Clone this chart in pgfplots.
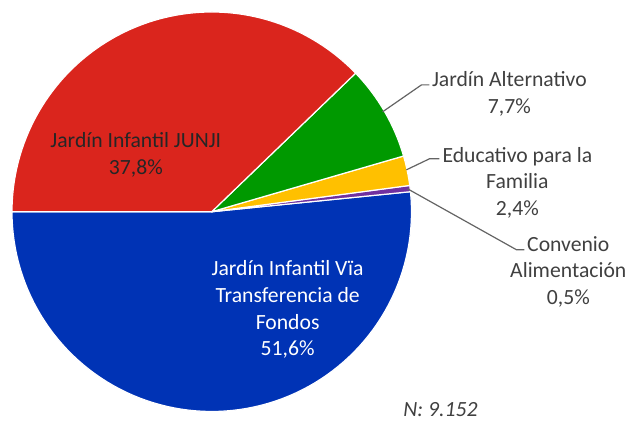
\documentclass[border=0pt]{standalone}
\usepackage{fontspec}
\setmainfont{Carlito}
\usepackage{pgfplots}
\usepackage{pgfplotstable}
\pgfplotsset{compat=1.18}
\definecolor{cRed}{RGB}{218,37,29}
\definecolor{cGreen}{RGB}{0,153,0}
\definecolor{cYellow}{RGB}{255,192,0}
\definecolor{cPurple}{RGB}{112,48,160}
\definecolor{cBlue}{RGB}{0,51,181}
\definecolor{cText}{RGB}{64,64,64}
\definecolor{cLine}{RGB}{100,100,100}
\pgfplotstableread{
name pct
Transferencia 51.6
Convenio 0.5
Educativo 2.4
Alternativo 7.7
JUNJI 37.8
}\piedata
\pgfplotstablegetelem{0}{pct}\of\piedata \let\pA\pgfplotsretval
\pgfplotstablegetelem{1}{pct}\of\piedata \let\pB\pgfplotsretval
\pgfplotstablegetelem{2}{pct}\of\piedata \let\pC\pgfplotsretval
\pgfplotstablegetelem{3}{pct}\of\piedata \let\pD\pgfplotsretval
\pgfplotstablegetelem{4}{pct}\of\piedata \let\pE\pgfplotsretval
\pgfmathsetmacro\aA{180}
\pgfmathsetmacro\aB{\aA+3.6*\pA}
\pgfmathsetmacro\aC{\aB+3.6*\pB}
\pgfmathsetmacro\aD{\aC+3.6*\pC}
\pgfmathsetmacro\aE{\aD+3.6*\pD}
\pgfmathsetmacro\aF{\aE+3.6*\pE}
\def\cx{212}
\def\cy{210}
\def\R{200}
\begin{document}
\begin{tikzpicture}
\begin{axis}[
  x=0.5pt, y=0.5pt,
  xmin=0, xmax=633, ymin=0, ymax=422,
  hide axis, clip=false,
  samples=90,
  every axis plot/.append style={line join=round},
  nodes={font=\fontsize{10.85}{13.3}\selectfont, align=center},
]
\addplot[draw=none] coordinates {(0,0) (633,422)};
\addplot[fill=cBlue, draw=white, line width=0.6pt, domain=\aA:\aB, variable=\t]
  ({\cx+\R*cos(\t)},{\cy+\R*sin(\t)}) -- (axis cs:\cx,\cy) -- cycle;
\addplot[fill=cPurple, draw=white, line width=0.6pt, domain=\aB:\aC, samples=5, variable=\t]
  ({\cx+\R*cos(\t)},{\cy+\R*sin(\t)}) -- (axis cs:\cx,\cy) -- cycle;
\addplot[fill=cYellow, draw=white, line width=0.6pt, domain=\aC:\aD, samples=10, variable=\t]
  ({\cx+\R*cos(\t)},{\cy+\R*sin(\t)}) -- (axis cs:\cx,\cy) -- cycle;
\addplot[fill=cGreen, draw=white, line width=0.6pt, domain=\aD:\aE, samples=20, variable=\t]
  ({\cx+\R*cos(\t)},{\cy+\R*sin(\t)}) -- (axis cs:\cx,\cy) -- cycle;
\addplot[fill=cRed, draw=white, line width=0.6pt, domain=\aE:\aF, variable=\t]
  ({\cx+\R*cos(\t)},{\cy+\R*sin(\t)}) -- (axis cs:\cx,\cy) -- cycle;
% leader lines
\addplot[cLine, line width=0.6pt, sharp plot] coordinates {(383,310) (422,337) (430,337)};
\addplot[cLine, line width=0.6pt, sharp plot] coordinates {(407,252) (430,263) (440,263)};
\addplot[cLine, line width=0.6pt, sharp plot] coordinates {(408,233) (517,172) (525,172)};
% labels
\node[text=cText] at (axis cs:510,328) {Jardín Alternativo\\7,7\%};
\node[text=cText] at (axis cs:518,239) {Educativo para la\\Familia\\2,4\%};
\node[text=cText] at (axis cs:569,150) {Convenio\\Alimentación\\0,5\%};
\node[text=black!85] at (axis cs:136,267) {Jardín Infantil JUNJI\\37,8\%};
\node[text=white] at (axis cs:288,112) {Jardín Infantil Vïa\\Transferencia de\\Fondos\\51,6\%};
\node[text=cText, font=\fontsize{10.85}{13.3}\selectfont\itshape] at (axis cs:441,12) {N: 9.152};
\end{axis}
\end{tikzpicture}
\end{document}
